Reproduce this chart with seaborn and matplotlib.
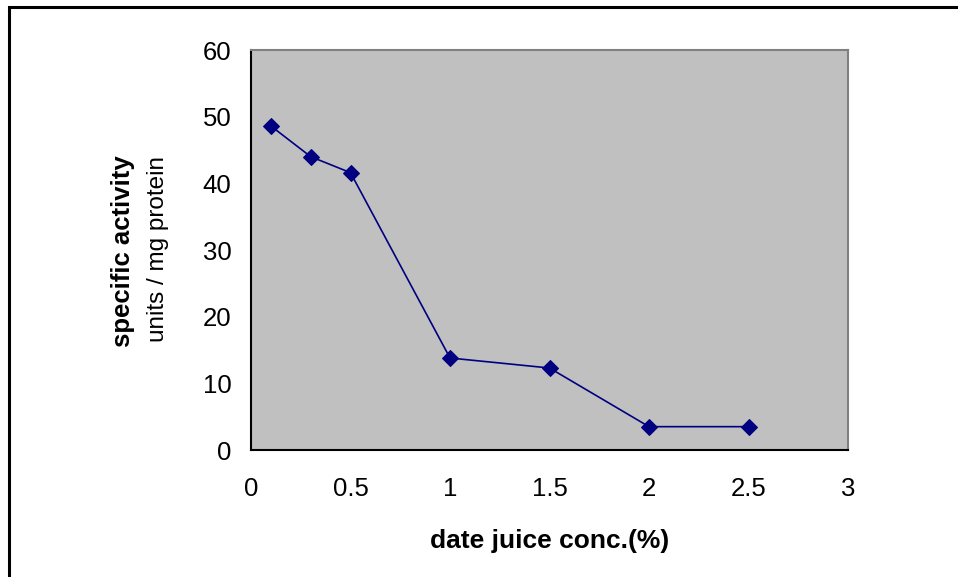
import matplotlib
matplotlib.use("Agg")
import matplotlib.pyplot as plt
import seaborn as sns
import pandas as pd
from matplotlib.patches import Rectangle

conc = [0.1, 0.3, 0.5, 1.0, 1.5, 2.0, 2.5]
activity = [48.6, 44.0, 41.6, 13.8, 12.3, 3.5, 3.5]
x_ticks = [0, 0.5, 1, 1.5, 2, 2.5, 3]
x_tick_labels = ["0", "0.5", "1", "1.5", "2", "2.5", "3"]
y_ticks = [0, 10, 20, 30, 40, 50, 60]

sns.set_theme(style="white")
plt.rcParams['font.family'] = ['Liberation Sans', 'DejaVu Sans']
plt.rcParams['text.color'] = 'black'
plt.rcParams['axes.labelcolor'] = 'black'

df = pd.DataFrame({"conc": conc, "activity": activity})

fig = plt.figure(figsize=(9.58, 5.77), dpi=100)
fig.patch.set_facecolor("white")
ax = fig.add_axes([251/958, 1-450/577, (848-251)/958, 400/577])
ax.set_facecolor("#C0C0C0")

sns.lineplot(data=df, x="conc", y="activity", ax=ax, color="#000080",
             marker="D", markersize=8.5, markeredgecolor="#000080",
             linewidth=1.2, estimator=None, sort=False)

ax.set_xlim(0, 3)
ax.set_ylim(0, 60)
ax.set_xticks(x_ticks)
ax.set_xticklabels(x_tick_labels)
ax.set_yticks(y_ticks)
ax.tick_params(axis="both", direction="out", length=6, width=1.2, color="black",
               labelsize=18.5, labelcolor="black")
ax.tick_params(axis="x", pad=13.5)
ax.tick_params(axis="y", pad=8)
for s in ["left", "bottom"]:
    ax.spines[s].set_color("black")
    ax.spines[s].set_linewidth(1.5)
for s in ["top", "right"]:
    ax.spines[s].set_color("#808080")
    ax.spines[s].set_linewidth(1.5)

ax.set_xlabel("date juice conc.(%)", fontsize=19, fontweight="bold", labelpad=20,
              color="black")
ax.set_ylabel("")
fig.text(123/958, 1-251/577, "specific activity", rotation=90, fontsize=18.5,
         fontweight="bold", ha="center", va="center")
fig.text(158/958, 1-249/577, "units / mg protein", rotation=90, fontsize=17.5,
         ha="center", va="center")

fig.patches.append(Rectangle((9/958, -0.1), 1.2, 1 - 7/577 + 0.1, transform=fig.transFigure,
                             fill=False, edgecolor="black", linewidth=2.2))

fig.savefig("out.png", dpi=100)
